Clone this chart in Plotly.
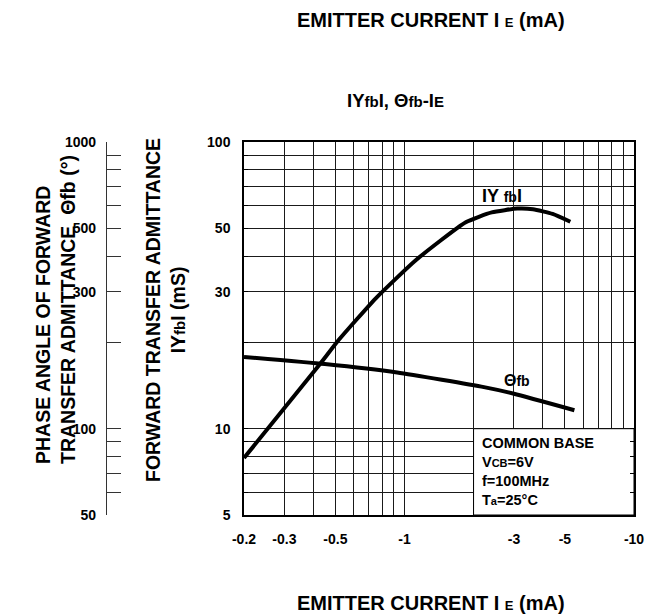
import math
import plotly.graph_objects as go

# ---- data ----
ie_yfb = [0.2, 0.427, 0.52, 0.75, 1.12, 1.85, 2.4, 3.1, 3.63, 4.42, 5.28]
yfb = [7.9, 16.75, 20.5, 28.5, 38.7, 52.5, 56.8, 58.6, 58.3, 56.1, 52.7]
ie_theta = [0.2, 0.45, 0.93, 2.22, 3.0, 5.5]
theta = [178, 168, 157, 139.6, 132.4, 116]

x_grid = [0.2, 0.3, 0.4, 0.5, 0.6, 0.7, 0.8, 0.9, 1, 2, 3, 4, 5, 6, 7, 8, 9, 10]
x_labels = {0.2: "-0.2", 0.3: "-0.3", 0.5: "-0.5", 1: "-1", 3: "-3", 5: "-5", 10: "-10"}
y_grid = [5, 6, 7, 8, 9, 10, 20, 30, 40, 50, 60, 70, 80, 90, 100]
y_labels = {5: "5", 10: "10", 30: "30", 50: "50", 100: "100"}
th_grid = [50, 60, 70, 80, 90, 100, 200, 300, 400, 500, 600, 700, 800, 900, 1000]
th_labels = {50: "50", 100: "100", 300: "300", 500: "500", 1000: "1000"}

box_x = [2, 10]
box_y = [5, 10]

W, H = 665, 616
FONT = "Liberation Sans, Arial, sans-serif"


def px(x):
    return x / W


def py(y):
    return 1 - y / H


def sub(t, s):
    return "<span style='font-size:%spx'>%s</span>" % (s, t)


def bold_labels(grid, labels):
    return ["<b>%s</b>" % labels[v] if v in labels else "" for v in grid]


fig = go.Figure()

# white condition box
fig.add_trace(go.Scatter(
    x=[box_x[0], box_x[1], box_x[1], box_x[0], box_x[0]],
    y=[box_y[0], box_y[0], box_y[1], box_y[1], box_y[0]],
    mode="lines", fill="toself", fillcolor="white",
    line=dict(color="black", width=1), hoverinfo="skip", showlegend=False))

fig.add_trace(go.Scatter(x=ie_yfb, y=yfb, mode="lines",
                         line=dict(color="black", width=4, shape="spline", smoothing=0.5),
                         showlegend=False, xaxis="x", yaxis="y"))
fig.add_trace(go.Scatter(x=ie_theta, y=theta, mode="lines",
                         line=dict(color="black", width=4, shape="spline", smoothing=0.5),
                         showlegend=False, xaxis="x", yaxis="y2"))

tickfont = dict(family=FONT, size=14, color="black")

fig.update_layout(
    width=W, height=H,
    margin=dict(l=0, r=0, t=0, b=0),
    paper_bgcolor="white", plot_bgcolor="white",
    font=dict(family=FONT, color="black"),
    xaxis=dict(
        type="log", domain=[px(244), px(634)],
        range=[math.log10(x_grid[0]), math.log10(x_grid[-1])],
        tickvals=x_grid, ticktext=bold_labels(x_grid, x_labels),
        tickfont=tickfont, ticks="", ticklabelstandoff=10,
        showgrid=True, gridcolor="#1a1a1a", gridwidth=1,
        showline=True, linecolor="black", linewidth=1.5, mirror=True,
        zeroline=False, automargin=False),
    yaxis=dict(
        type="log", domain=[py(515), py(142)],
        range=[math.log10(y_grid[0]), math.log10(y_grid[-1])],
        tickvals=y_grid, ticktext=bold_labels(y_grid, y_labels),
        tickfont=tickfont, ticks="inside", ticklen=4, tickcolor="black", tickwidth=1,
        ticklabelstandoff=9,
        showgrid=True, gridcolor="#1a1a1a", gridwidth=1,
        showline=True, linecolor="black", linewidth=1.5, mirror="allticks",
        zeroline=False, automargin=False),
    yaxis2=dict(
        type="log", overlaying="y", anchor="free", position=px(106), side="left",
        range=[math.log10(th_grid[0]), math.log10(th_grid[-1])],
        tickvals=th_grid, ticktext=bold_labels(th_grid, th_labels),
        tickfont=tickfont, ticks="inside", ticklen=14, tickcolor="#333", tickwidth=1.2,
        ticklabelstandoff=7,
        showgrid=False, showline=True, linecolor="#333", linewidth=1.2,
        zeroline=False, automargin=False),
)

ann = []
ie_title = "<b>EMITTER CURRENT I " + sub("E", 13) + " (mA)</b>"


def add(text, x, y, size, **kw):
    d = dict(text=text, x=px(x), y=py(y), xref="paper", yref="paper", showarrow=False,
             xanchor="center", yanchor="middle",
             font=dict(family=FONT, size=size, color="black"))
    d.update(kw)
    ann.append(d)


add(ie_title, 431, 20, 20)
add(ie_title, 431, 603, 20)
add("<b>IY" + sub("fb", 15) + "I, \u0398" + sub("fb", 15) + "-I" + sub("E", 15) + "</b>", 395, 100, 18.5)
add("<b>PHASE ANGLE OF FORWARD<br>TRANSFER ADMITTANCE\u00a0\u00a0\u0398fb (\u00b0)</b>",
    55, 310, 19.5, textangle=-90, align="left")
add("<b>FORWARD TRANSFER ADMITTANCE<br>IY" + sub("fb", 15) + "I (mS)</b>",
    165, 310, 19.5, textangle=-90, align="center")
add("<b>IY " + sub("fb", 14) + "I</b>", 502, 196, 18)
add("<b>\u0398" + sub("fb", 14) + "</b>", 517, 380, 16)
add("<b>COMMON BASE<br>V" + sub("CB", 11) + "=6V<br>f=100MHz<br>T" + sub("a", 11) + "=25\u00b0C</b>",
    480, 471.5, 14.5, xanchor="left", align="left")
fig.update_layout(annotations=ann)

fig.write_html("out.html", config={"displayModeBar": False},
               post_script="document.body.style.margin='0px';")
